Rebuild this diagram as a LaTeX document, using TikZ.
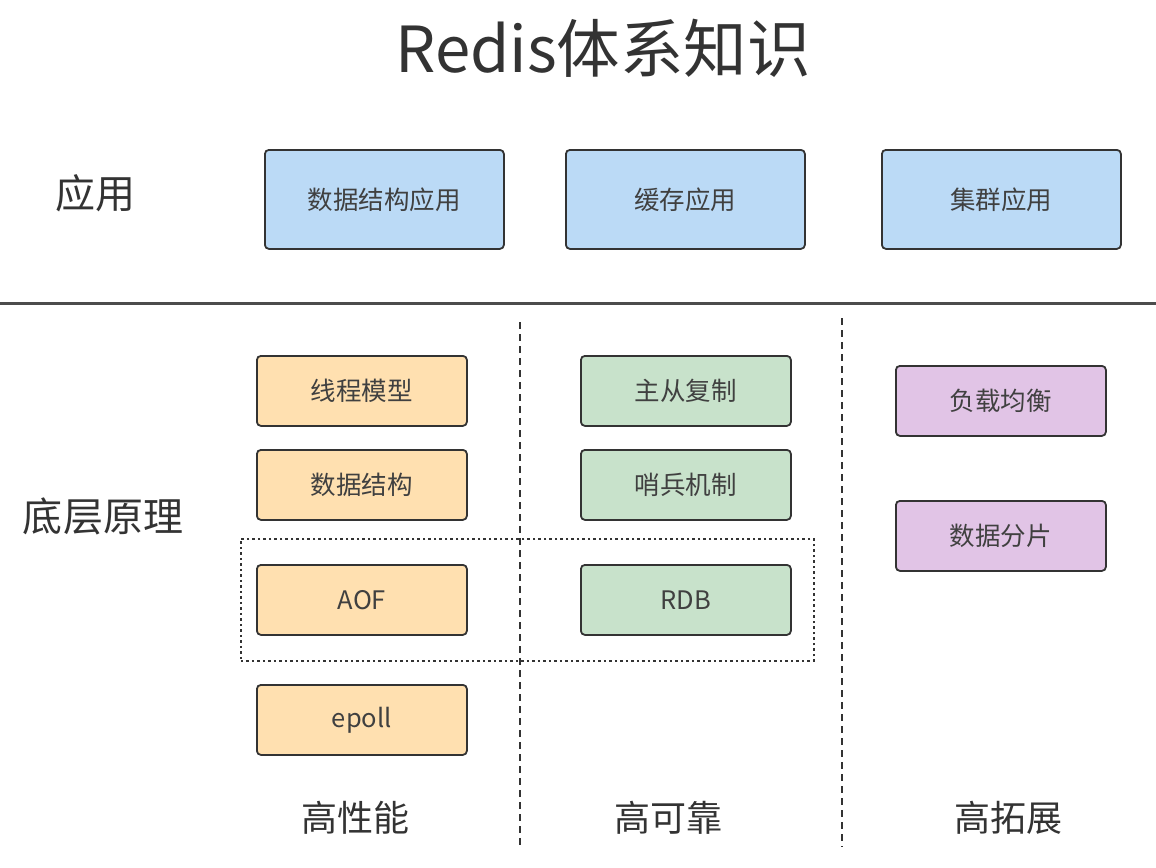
\documentclass[tikz,border=0pt]{standalone}
\usepackage{fontspec}
\setmainfont{Noto Sans CJK SC}
\begin{document}
\begin{tikzpicture}[x=1pt,y=-1pt,
  boxbase/.style={draw=black!80,line width=1.8pt,rounded corners=4pt,inner sep=0pt,anchor=north west,
    font=\fontsize{25.5}{28}\selectfont,text=black!75},
  bluebox/.style={boxbase,fill={rgb,255:red,187;green,218;blue,246},minimum width=239pt,minimum height=99pt},
  orangebox/.style={boxbase,fill={rgb,255:red,255;green,224;blue,176},minimum width=210pt,minimum height=70pt},
  greenbox/.style={boxbase,fill={rgb,255:red,200;green,226;blue,203},minimum width=210pt,minimum height=70pt},
  purplebox/.style={boxbase,fill={rgb,255:red,225;green,196;blue,230},minimum width=210pt,minimum height=70pt},
  biglabel/.style={font=\fontsize{36}{40}\selectfont,text=black!80},
  sidelabel/.style={font=\fontsize{40}{44}\selectfont,text=black!80},
  divider/.style={draw=black!80,line width=1.8pt,dash pattern=on 7pt off 5pt}
]
\useasboundingbox (0,0) rectangle (1156,867);
\node[font=\fontsize{63.5}{70}\selectfont,text=black!80] (title) at (603,48) {Redis体系知识};
\node[sidelabel] (app) at (95,193) {应用};
\node[sidelabel] (base) at (103,516) {底层原理};
\draw[draw=black!70,line width=3pt] (0,303) coordinate (hl) -- (1156,303) coordinate (hr);
\node[bluebox] (b1) at (264,149) {数据结构应用};
\node[bluebox] (b2) at (565,149) {缓存应用};
\node[bluebox] (b3) at (881,149) {集群应用};
\coordinate (d1t) at (520,322); \coordinate (d1b) at (520,847);
\coordinate (d2t) at (842,318); \coordinate (d2b) at (842,847);
\draw[divider] (d1t) -- (d1b);
\draw[divider] (d2t) -- (d2b);
\node[draw=black!80,line width=1.8pt,dash pattern=on 2.5pt off 3pt,minimum width=573pt,minimum height=122pt,inner sep=0pt,anchor=north west] (persist) at (240,538) {};
\node[orangebox] (o1) at (256,355) {线程模型};
\node[orangebox] (o2) at (256,449) {数据结构};
\node[orangebox] (o3) at (256,564) {AOF};
\node[orangebox] (o4) at (256,684) {epoll};
\node[greenbox] (g1) at (580,355) {主从复制};
\node[greenbox] (g2) at (580,449) {哨兵机制};
\node[greenbox] (g3) at (580,564) {RDB};
\node[purplebox] (p1) at (895,365) {负载均衡};
\node[purplebox] (p2) at (895,500) {数据分片};
\node[biglabel] (l1) at (355,818) {高性能};
\node[biglabel] (l2) at (668,818) {高可靠};
\node[biglabel] (l3) at (1008,818) {高拓展};
\end{tikzpicture}
\end{document}
